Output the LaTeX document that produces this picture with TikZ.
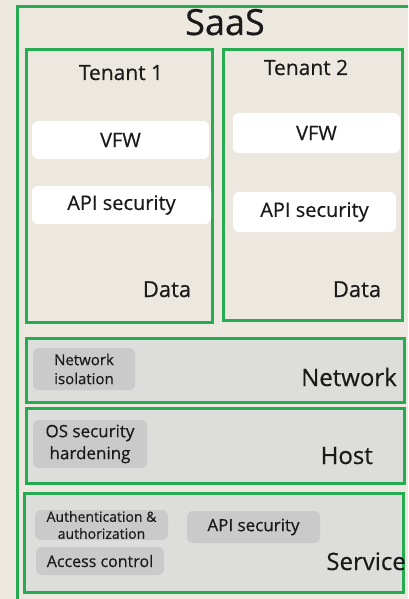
\documentclass[tikz,border=0pt]{standalone}
\usepackage{fontspec}
\setmainfont{Open Sans}[FakeBold=0.5]
\usepackage{xcolor}
\usepackage{tikz}

\definecolor{bgBeige}{RGB}{236,232,223}
\definecolor{lineGreen}{RGB}{38,172,80}
\definecolor{panelGray}{RGB}{221,221,220}
\definecolor{chipGray}{RGB}{202,202,202}
\definecolor{inkBlack}{RGB}{26,26,26}

\begin{document}
\begin{tikzpicture}[x=1pt, y=-1pt,
    frame/.style={draw=lineGreen, line width=3pt},
    tenantbox/.style={frame, fill=bgBeige},
    layerbox/.style={frame, fill=panelGray},
    whitebox/.style={fill=white, rounded corners=6pt, text=inkBlack, font=\fontsize{20}{24}\selectfont},
    graybox/.style={fill=chipGray, rounded corners=6pt, text=inkBlack, align=center, inner sep=0pt},
    title/.style={text=inkBlack, inner sep=0pt}]
            \clip (0,0) rectangle (408,599);
            \fill[bgBeige] (0,0) rectangle (408,599);

            % outer frame
            \node[frame, minimum width=397, minimum height=600] (saas) at (215.5,307) {};
            \node[title, font=\fontsize{36}{40}\selectfont, anchor=base] (saaslbl) at (225,35) {SaaS};

            % tenants
            \node[tenantbox, minimum width=186, minimum height=272] (tenantA) at (119,186) {};
            \node[tenantbox, minimum width=179, minimum height=270] (tenantB) at (312.5,185) {};
            \node[title, font=\fontsize{21}{25}\selectfont, anchor=base] (tenantAlbl) at (121,80) {Tenant 1};
            \node[title, font=\fontsize{21}{25}\selectfont, anchor=base] (tenantBlbl) at (306,75) {Tenant 2};

            \node[whitebox, minimum width=177, minimum height=38] (vfwA) at (120.5,140) {VFW};
            \node[whitebox, minimum width=179, minimum height=38] (apiA) at (121.5,205) {API security};
            \node[whitebox, minimum width=167, minimum height=40] (vfwB) at (316.5,133) {VFW};
            \node[whitebox, minimum width=163, minimum height=40] (apiB) at (314.5,212) {API security};

            \node[title, font=\fontsize{22}{26}\selectfont, anchor=base] (dataA) at (167,297) {Data};
            \node[title, font=\fontsize{22}{26}\selectfont, anchor=base] (dataB) at (357,297) {Data};

            % layers
            \node[layerbox, minimum width=378, minimum height=64] (network) at (215,370) {};
            \node[layerbox, minimum width=378, minimum height=75] (host) at (215,445.5) {};
            \node[layerbox, minimum width=379, minimum height=99] (service) at (213.5,542.5) {};

            \node[graybox, minimum width=102, minimum height=42, font=\fontsize{15}{19}\selectfont] (netiso) at (84,369) {Network\\isolation};
            \node[title, font=\fontsize{24}{28}\selectfont, anchor=base east] (networklbl) at (397,386) {Network};

            \node[graybox, minimum width=114, minimum height=48, font=\fontsize{17}{22}\selectfont] (oshard) at (90,444) {OS security\\hardening};
            \node[title, font=\fontsize{24}{28}\selectfont, anchor=base east] (hostlbl) at (373,464) {Host};

            \node[graybox, minimum width=133, minimum height=30, font=\fontsize{14}{17}\selectfont] (authn) at (101.5,525) {Authentication \&\\authorization};
            \node[graybox, minimum width=128, minimum height=28, font=\fontsize{16}{19}\selectfont] (access) at (100,561) {Access control};
            \node[graybox, minimum width=133, minimum height=32, font=\fontsize{17}{20}\selectfont] (apiS) at (253.5,527) {API security};
            \node[title, font=\fontsize{24}{28}\selectfont, anchor=base east] (servicelbl) at (406,570) {Service};
        \end{tikzpicture}
\end{document}
